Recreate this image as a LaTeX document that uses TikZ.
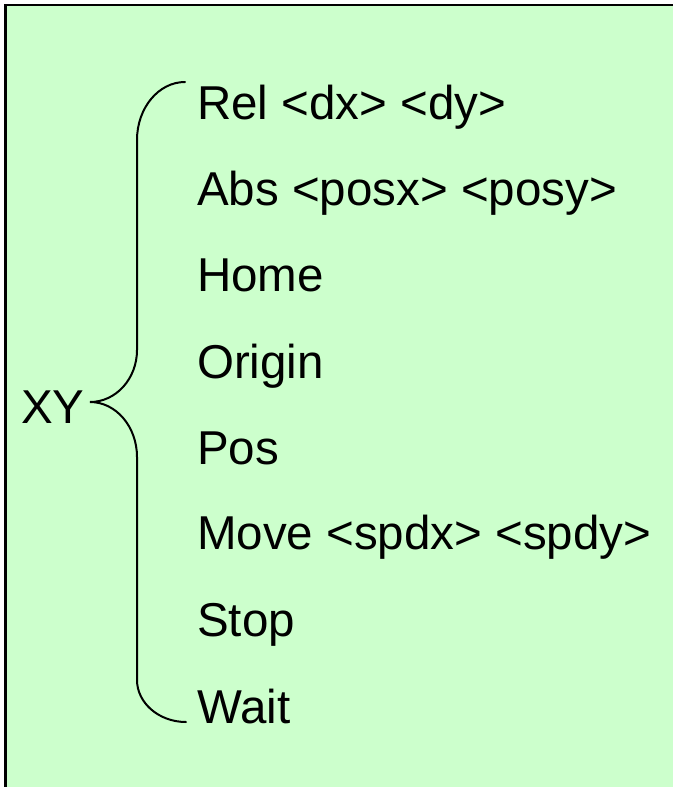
\documentclass[tikz,border=0pt]{standalone}
\usepackage{fontspec}
\setmainfont{Liberation Sans}
\definecolor{bggreen}{HTML}{CCFFCC}
\begin{document}
\begin{tikzpicture}[x=1bp,y=1bp,
  item/.style={anchor=base west,inner sep=0pt,font=\fontsize{47.5bp}{57bp}\selectfont},
  bracepath/.style={line width=2bp,line cap=round},
  frameline/.style={line width=2.5bp}]
\useasboundingbox (0,0) rectangle (673,-787);
\fill[white] (0,0) rectangle (673,-787);
\fill[bggreen] (5.25,-5.25) rectangle (673,-787);
\draw[frameline] (5.25,-787) -- (5.25,-5.25) -- (673,-5.25);
\node[item] (xy) at (21,-423) {XY};
\node[item] (rel) at (197,-119) {Rel <dx> <dy>};
\node[item] (abs) at (197,-205) {Abs <posx> <posy>};
\node[item] (home) at (197,-291) {Home};
\node[item] (origin) at (197,-378) {Origin};
\node[item] (pos) at (197,-464) {Pos};
\node[item] (move) at (197,-549) {Move <spdx> <spdy>};
\node[item] (stop) at (197,-636) {Stop};
\node[item] (wait) at (197,-723) {Wait};
\coordinate (btop) at (185,-82);
\coordinate (btip) at (90,-402);
\coordinate (bbot) at (186,-722);
\draw[bracepath] (btop) .. controls (158.5,-82) and (137,-108) .. (137,-140)
  -- (137,-350) .. controls (137,-378.7) and (116,-402) .. (btip)
  .. controls (116,-402) and (137,-426.6) .. (137,-457)
  -- (137,-680) .. controls (137,-703) and (159,-722) .. (bbot);
\end{tikzpicture}
\end{document}
